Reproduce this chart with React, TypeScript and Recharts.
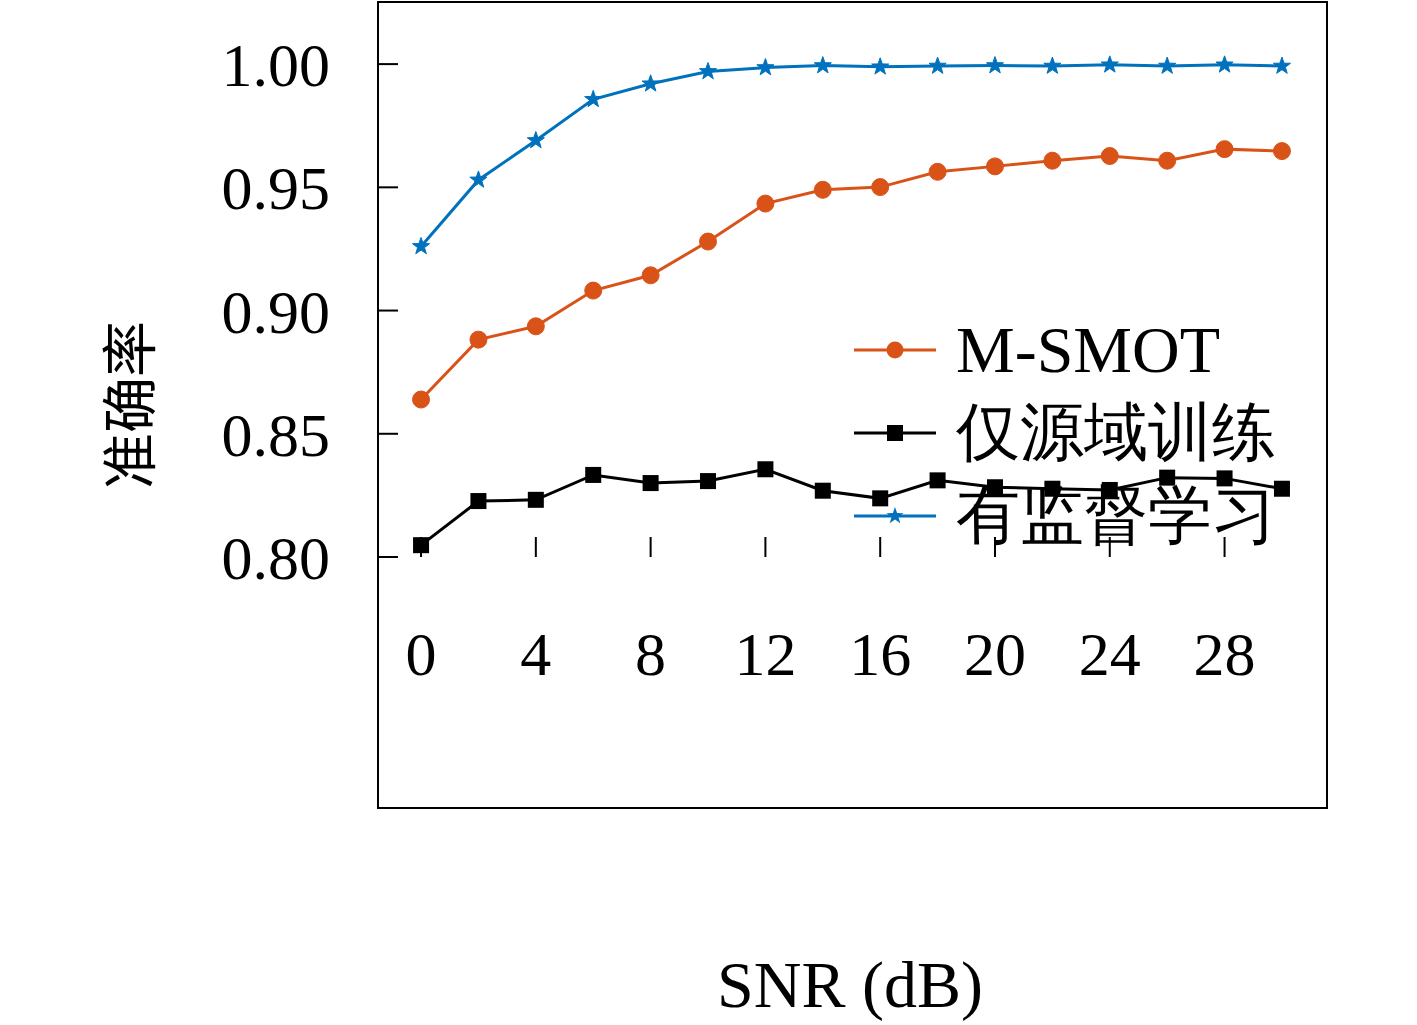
import React from "react";
import { LineChart, Line, XAxis, YAxis, Legend } from "recharts";

const snr = [0, 2, 4, 6, 8, 10, 12, 14, 16, 18, 20, 22, 24, 26, 28, 30];
const msmot = [0.8639, 0.8882, 0.8936, 0.9081, 0.9143, 0.928, 0.9434, 0.949, 0.9501, 0.9563, 0.9585, 0.9608, 0.9627, 0.9608, 0.9655, 0.9647];
const sourceOnly = [0.8048, 0.8227, 0.8232, 0.8333, 0.83, 0.8308, 0.8356, 0.8269, 0.8238, 0.8311, 0.8283, 0.8277, 0.8272, 0.8322, 0.8319, 0.8277];
const supervised = [0.926, 0.953, 0.969, 0.9857, 0.992, 0.997, 0.9986, 0.9994, 0.9989, 0.9992, 0.9994, 0.9992, 0.9997, 0.9992, 0.9997, 0.9992];
const xTicks = [0, 4, 8, 12, 16, 20, 24, 28];
const yTicks = [0.8, 0.85, 0.9, 0.95, 1.0];

const data = snr.map((s, i) => ({ snr: s, a: msmot[i], b: sourceOnly[i], c: supervised[i] }));

const ORANGE = "#D95319";
const BLUE = "#0072BD";
const FONT = "'Liberation Serif', 'DejaVu Serif', serif";

const Circle = (p: any) => <circle cx={p.cx} cy={p.cy} r={8.5} fill={ORANGE} stroke={ORANGE} />;
const Square = (p: any) => <rect x={p.cx - 8} y={p.cy - 8} width={16} height={16} fill="#000" />;
const starPath = (cx: number, cy: number, R: number) => {
  const pts: string[] = [];
  for (let i = 0; i < 10; i++) {
    const r = i % 2 === 0 ? R : R * 0.4;
    const ang = -Math.PI / 2 + (i * Math.PI) / 5;
    pts.push(`${cx + r * Math.cos(ang)},${cy + r * Math.sin(ang)}`);
  }
  return "M" + pts.join("L") + "Z";
};
const Star = (p: any) => <path d={starPath(p.cx, p.cy, 9)} fill={BLUE} stroke={BLUE} strokeWidth={1} />;

const legendItems = [
  { name: "M-SMOT", color: ORANGE, m: "c" },
  { name: "仅源域训练", color: "#000", m: "s" },
  { name: "有监督学习", color: BLUE, m: "t" },
];

const LegendContent = () => (
  <div style={{ fontFamily: FONT, fontSize: 64, lineHeight: 1 }}>
    {legendItems.map((it) => (
      <div key={it.name} style={{ display: "flex", alignItems: "center", height: 83 }}>
        <svg width={106} height={30}>
          <line x1={4} y1={15} x2={86} y2={15} stroke={it.color} strokeWidth={3} />
          {it.m === "c" && <circle cx={45} cy={15} r={8.5} fill={it.color} />}
          {it.m === "s" && <rect x={37} y={7} width={16} height={16} fill={it.color} />}
          {it.m === "t" && <path d={starPath(45, 15, 9)} fill={it.color} />}
        </svg>
        <span style={{ fontSize: it.m === "c" ? 66 : 64 }}>{it.name}</span>
      </div>
    ))}
  </div>
);

export default function App() {
  return (
    <div style={{ position: "absolute", left: 0, top: 0, width: 1417, height: 1025, background: "#fff" }}>
      <LineChart width={1417} height={1025} data={data} margin={{ top: 2, right: 92, bottom: 218, left: 377 }}>
        <XAxis
          dataKey="snr"
          type="number"
          domain={[-1.5, 31.5]}
          allowDataOverflow
          ticks={xTicks}
          height={1}
          axisLine={false}
          tickSize={-20}
          tickMargin={94}
          tickLine={{ stroke: "#000", strokeWidth: 2 }}
          tick={{ fill: "#000", fontSize: 62, fontFamily: FONT }}
        />
        <YAxis
          type="number"
          domain={[0.8, 1.0252]}
          allowDataOverflow
          ticks={yTicks}
          width={1}
          axisLine={false}
          tickSize={-20}
          tickMargin={68}
          tickFormatter={(v: number) => v.toFixed(2)}
          tickLine={{ stroke: "#000", strokeWidth: 2 }}
          tick={{ fill: "#000", fontSize: 62, fontFamily: FONT }}
        />
        <Legend content={<LegendContent />} wrapperStyle={{ left: 850, top: 308, width: 520 }} />
        <Line dataKey="a" stroke={ORANGE} strokeWidth={3} dot={<Circle />} isAnimationActive={false} />
        <Line dataKey="b" stroke="#000" strokeWidth={3} dot={<Square />} isAnimationActive={false} />
        <Line dataKey="c" stroke={BLUE} strokeWidth={3} dot={<Star />} isAnimationActive={false} />
      </LineChart>
      <div style={{ position: "absolute", left: 377, top: 1, width: 947, height: 804, border: "2px solid #000", pointerEvents: "none" }} />
      <div style={{ position: "absolute", left: 850, top: 985, transform: "translate(-50%,-50%)", fontFamily: FONT, fontSize: 66, whiteSpace: "nowrap" }}>SNR (dB)</div>
      <div style={{ position: "absolute", left: 125, top: 405, transform: "translate(-50%,-50%) rotate(-90deg)", fontFamily: "'Noto Sans CJK SC', serif", fontSize: 56, whiteSpace: "nowrap" }}>准确率</div>
    </div>
  );
}
